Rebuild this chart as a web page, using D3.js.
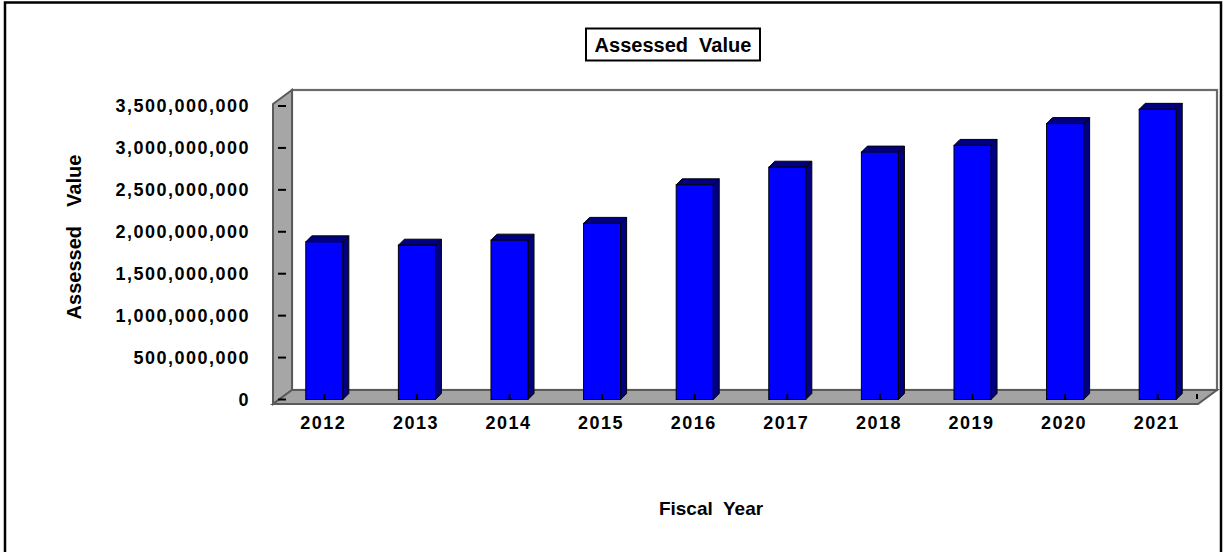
<!DOCTYPE html>
<html>
<head>
<meta charset="utf-8">
<script src="https://cdn.jsdelivr.net/npm/d3@7"></script>
<style>
  html, body { margin: 0; padding: 0; background: #fff; }
  svg { display: block; font-family: "Liberation Sans", Arial, sans-serif; }
  text { white-space: pre; }
</style>
</head>
<body>
<svg id="chart" width="1225" height="552"></svg>
<script>
// Fiscal years and assessed values
const years = ["2012", "2013", "2014", "2015", "2016", "2017", "2018", "2019", "2020", "2021"];
const assessedValues = [1880000000, 1840000000, 1900000000, 2100000000, 2560000000,
                        2770000000, 2950000000, 3030000000, 3290000000, 3460000000];
const valueTicks = [0, 500000000, 1000000000, 1500000000, 2000000000, 2500000000, 3000000000, 3500000000];

const svg = d3.select("#chart");

// outer frame
svg.append("rect")
  .attr("x", 5).attr("y", 2.5).attr("width", 1216).attr("height", 570)
  .attr("fill", "none").attr("stroke", "#000").attr("stroke-width", 2.5);

// 3D box geometry: back wall and depth offset
const back = { x0: 292, x1: 1217, y0: 90, y1: 390 };
const depth = { dx: -19, dy: 14 };

const defs = svg.append("defs");
defs.append("filter").attr("id", "soft")
  .append("feGaussianBlur").attr("stdDeviation", 0.6);

const y = d3.scaleLinear().domain([0, 3500000000]).range([399.5, 106]);
const x = d3.scaleBand().domain(years).range([278, 1204]).paddingInner(0.6).paddingOuter(0.3);

const box = svg.append("g").attr("filter", "url(#soft)");

// back wall
box.append("rect")
  .attr("x", back.x0).attr("y", back.y0)
  .attr("width", back.x1 - back.x0).attr("height", back.y1 - back.y0)
  .attr("fill", "#fff").attr("stroke", "#6a6a6a").attr("stroke-width", 2.2);

// left side wall
box.append("polygon")
  .attr("points", [
    [back.x0 + depth.dx, back.y0 + depth.dy], [back.x0, back.y0],
    [back.x0, back.y1], [back.x0 + depth.dx, back.y1 + depth.dy]
  ].map(p => p.join(",")).join(" "))
  .attr("fill", "#a6a6a6").attr("stroke", "#5a5a5a").attr("stroke-width", 2);

// floor
box.append("polygon")
  .attr("points", [
    [back.x0 + depth.dx, back.y1 + depth.dy], [back.x0, back.y1],
    [back.x1, back.y1], [back.x1 + depth.dx, back.y1 + depth.dy]
  ].map(p => p.join(",")).join(" "))
  .attr("fill", "#a3a3a3").attr("stroke", "#5a5a5a").attr("stroke-width", 2);

// value axis ticks on the side wall
svg.append("g").selectAll("line").data(valueTicks).join("line")
  .attr("x1", 278).attr("x2", 286)
  .attr("y1", d => y(d)).attr("y2", d => y(d))
  .attr("stroke", "#000").attr("stroke-width", 2);

// bars (side, top and front faces)
const bd = 6;
const barW = x.bandwidth();
const bars = svg.append("g").attr("filter", "url(#soft)")
  .selectAll("g").data(years.map((yr, i) => ({ yr, v: assessedValues[i] }))).join("g");

bars.append("polygon")
  .attr("points", d => {
    const x0 = x(d.yr) + barW, yt = y(d.v), yb = y(0);
    return [[x0, yt], [x0 + bd, yt - bd], [x0 + bd, yb - bd], [x0, yb]].map(p => p.join(",")).join(" ");
  })
  .attr("fill", "#000080").attr("stroke", "#000").attr("stroke-width", 1);

bars.append("polygon")
  .attr("points", d => {
    const x0 = x(d.yr), yt = y(d.v);
    return [[x0, yt], [x0 + bd, yt - bd], [x0 + barW + bd, yt - bd], [x0 + barW, yt]].map(p => p.join(",")).join(" ");
  })
  .attr("fill", "#000080").attr("stroke", "#000").attr("stroke-width", 1);

bars.append("rect")
  .attr("x", d => x(d.yr)).attr("y", d => y(d.v))
  .attr("width", barW).attr("height", d => y(0) - y(d.v))
  .attr("fill", "#0000ff").attr("stroke", "#000").attr("stroke-width", 1);

// category ticks on the floor
const catTicks = years.map(yr => x(yr) + barW / 2).concat([1197]);
svg.append("g").selectAll("line").data(catTicks).join("line")
  .attr("x1", d => d).attr("x2", d => d)
  .attr("y1", 394).attr("y2", 399)
  .attr("stroke", "#000").attr("stroke-width", 2);

// value labels
const fmt = d3.format(",");
svg.append("g").selectAll("text").data(valueTicks).join("text")
  .attr("x", 250).attr("y", d => y(d)).attr("dy", "0.35em")
  .attr("text-anchor", "end")
  .attr("font-size", 18).attr("font-weight", "bold")
  .attr("letter-spacing", 1.5)
  .text(d => fmt(d));

// category labels
svg.append("g").selectAll("text").data(years).join("text")
  .attr("x", d => x(d) + barW / 2 - 1).attr("y", 423).attr("dy", "0.35em")
  .attr("text-anchor", "middle")
  .attr("font-size", 18).attr("font-weight", "bold")
  .attr("letter-spacing", 1.5)
  .text(d => d);

// axis titles
svg.append("text")
  .attr("transform", "translate(74,237) rotate(-90)")
  .attr("text-anchor", "middle").attr("dy", "0.35em")
  .attr("font-size", 20).attr("font-weight", "bold")
  .attr("word-spacing", 4)
  .text("Assessed  Value");

svg.append("text")
  .attr("x", 711).attr("y", 508).attr("dy", "0.35em")
  .attr("text-anchor", "middle")
  .attr("font-size", 19).attr("font-weight", "bold")
  .text("Fiscal  Year");

// chart title in a box
svg.append("rect")
  .attr("x", 586).attr("y", 28.5).attr("width", 174).attr("height", 32)
  .attr("fill", "#fff").attr("stroke", "#000").attr("stroke-width", 2);
svg.append("text")
  .attr("x", 673).attr("y", 45).attr("dy", "0.35em")
  .attr("text-anchor", "middle")
  .attr("font-size", 20).attr("font-weight", "bold")
  .text("Assessed  Value");
</script>
</body>
</html>
